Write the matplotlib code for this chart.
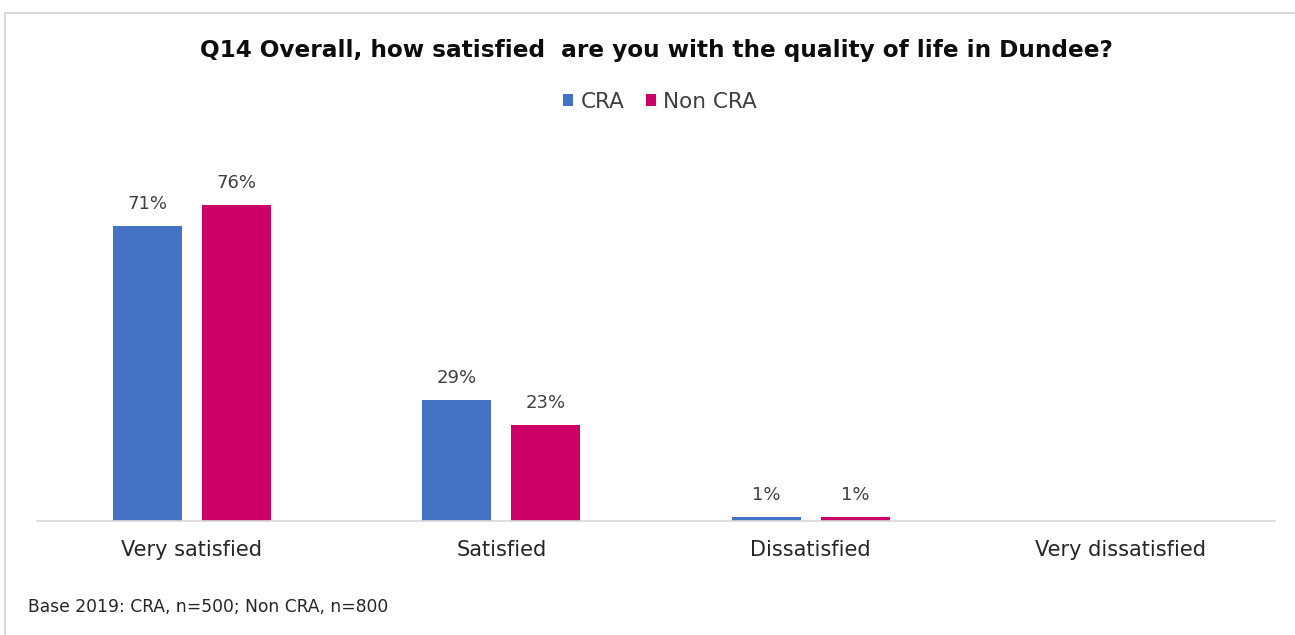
import matplotlib
matplotlib.use("Agg")
import matplotlib.pyplot as plt
from matplotlib.patches import Rectangle
import numpy as np

categories = ["Very satisfied", "Satisfied", "Dissatisfied", "Very dissatisfied"]
cra = [71, 29, 1, 0]
non_cra = [76, 23, 1, 0]
series_names = ["CRA", "Non CRA"]
colors = ["#4472C4", "#CC0066"]

title = "Q14 Overall, how satisfied  are you with the quality of life in Dundee?"
footnote = "Base 2019: CRA, n=500; Non CRA, n=800"

plt.rcParams["font.family"] = ["DejaVu Sans"]

W, H = 1295, 635
fig = plt.figure(figsize=(W / 100, H / 100), dpi=100)

# light outer frame of the chart area
fig.patches.append(Rectangle((5 / W, -0.1), 1.2, 1 - 13 / H + 0.1,
                             transform=fig.transFigure, fill=False,
                             edgecolor="#D9D9D9", linewidth=1.5))

ax = fig.add_axes([37 / W, (H - 521) / H, (1275 - 37) / W, (521 - 147) / H])

x = np.arange(len(categories))
bw = 0.223
gap = 0.065
off = (bw + gap) / 2
bars = []
for i, (vals, name, col) in enumerate(zip([cra, non_cra], series_names, colors)):
    pos = x + (-off if i == 0 else off)
    b = ax.bar(pos, vals, width=bw, color=col, label=name)
    bars.append(b)
    for p, v in zip(pos, vals):
        if v > 0:
            ax.text(p, v + 5.3, f"{v}%", ha="center", va="center",
                    fontsize=13, color="#404040")

ax.set_xlim(-0.5, len(categories) - 0.5)
ax.set_ylim(0, 90)
ax.set_yticks([])
ax.set_xticks(x)
ax.set_xticklabels(categories, fontsize=15, color="#262626")
ax.tick_params(axis="x", length=0, pad=14)
for s in ["top", "right", "left"]:
    ax.spines[s].set_visible(False)
ax.spines["bottom"].set_color("#D9D9D9")
ax.spines["bottom"].set_linewidth(1.2)

fig.text(656 / W, 1 - 50 / H, title, ha="center", va="center",
         fontsize=16.7, fontweight="bold", color="#0D0D0D")

fig.legend(handles=bars, labels=series_names, loc="center",
           bbox_to_anchor=(660 / W, 1 - 102 / H), ncol=2, frameon=False,
           fontsize=15.5, handlelength=0.45, handleheight=0.5,
           handletextpad=0.35, columnspacing=1.0, labelcolor="#404040")

fig.text(28 / W, 1 - 607 / H, footnote, ha="left", va="center",
         fontsize=12.3, color="#262626")

fig.savefig("out.png", dpi=100)
